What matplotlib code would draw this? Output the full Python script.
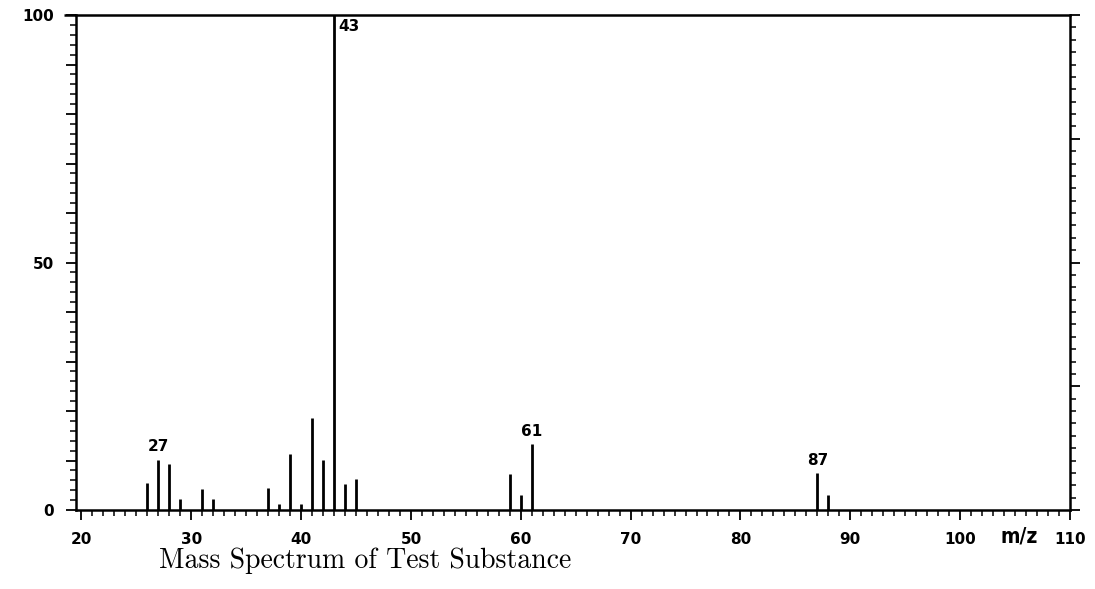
import matplotlib
matplotlib.use("Agg")
import matplotlib.pyplot as plt
from matplotlib.ticker import MultipleLocator

# Mass spectrum peaks: m/z and relative intensity (%)
mz = [26, 27, 28, 29, 31, 32, 37, 38, 39, 40, 41, 42, 43, 44, 45, 59, 60, 61, 87, 88]
intensity = [5.4, 10.2, 9.2, 2.2, 4.2, 2.2, 4.4, 1.2, 11.3, 1.2, 18.5, 10.2, 100.0,
             5.3, 6.3, 7.3, 3.1, 13.3, 7.4, 3.1]
labeled_peaks = [27, 43, 61, 87]

x_ticks = [20, 30, 40, 50, 60, 70, 80, 90, 100, 110]
y_ticks = [0, 10, 20, 30, 40, 50, 60, 70, 80, 90, 100]
y_tick_labels = ["0", "", "", "", "", "50", "", "", "", "", "100"]

tick_font = dict(family="DejaVu Sans", weight="bold", size=11)

fig = plt.figure(figsize=(10.95, 5.89), dpi=100)
ax = fig.add_axes([0.0694, 0.1341, 0.9077, 0.8404])

ax.vlines(mz, 0, intensity, colors="black", linewidth=2.0)

ax.set_xlim(19.5, 110)
ax.set_ylim(0, 100)

for side in ["left", "right", "top", "bottom"]:
    ax.spines[side].set_linewidth(1.8)

# top frame line runs a little past the left axis
ax.plot([18.4, 19.5], [100, 100], color="black", linewidth=1.8, clip_on=False,
        solid_capstyle="butt")

ax.set_xticks(x_ticks)
ax.set_xticklabels([str(t) for t in x_ticks], fontdict=tick_font)
ax.xaxis.set_minor_locator(MultipleLocator(1))
ax.set_yticks(y_ticks)
ax.set_yticklabels(y_tick_labels, fontdict=tick_font)
ax.yaxis.set_minor_locator(MultipleLocator(2))
ax.tick_params(axis="both", which="major", direction="out", length=7, width=1.3)
ax.tick_params(axis="both", which="minor", direction="out", length=4, width=1.1)
ax.tick_params(axis="x", which="major", pad=9)
ax.tick_params(axis="y", which="major", pad=9)

# Right-hand intensity scale (ticks only)
ax2 = ax.twinx()
ax2.set_ylim(0, 100)
ax2.yaxis.set_major_locator(MultipleLocator(25))
ax2.yaxis.set_minor_locator(MultipleLocator(2.5))
ax2.tick_params(axis="y", which="major", direction="out", length=7, width=1.3, labelright=False)
ax2.tick_params(axis="y", which="minor", direction="out", length=4, width=1.1)
for side in ["left", "right", "top", "bottom"]:
    ax2.spines[side].set_visible(False)

# Peak labels
for m, v in zip(mz, intensity):
    if m not in labeled_peaks:
        continue
    if v >= 99:
        ax.annotate(str(m), xy=(m, v), xytext=(3, -3), textcoords="offset points",
                    ha="left", va="top", **tick_font)
    else:
        ax.annotate(str(m), xy=(m, v), xytext=(0, 4), textcoords="offset points",
                    ha="center", va="bottom", **tick_font)

fig.text(1019 / 1095, 1 - 537 / 589, "m/z", family="DejaVu Sans", stretch="condensed",
         weight="bold", size=15, ha="center", va="center")
fig.text(365 / 1095, 1 - 561 / 589, "Mass Spectrum of Test Substance",
         family="cmr10", size=20, ha="center", va="center")

fig.savefig("out.png", dpi=100)
